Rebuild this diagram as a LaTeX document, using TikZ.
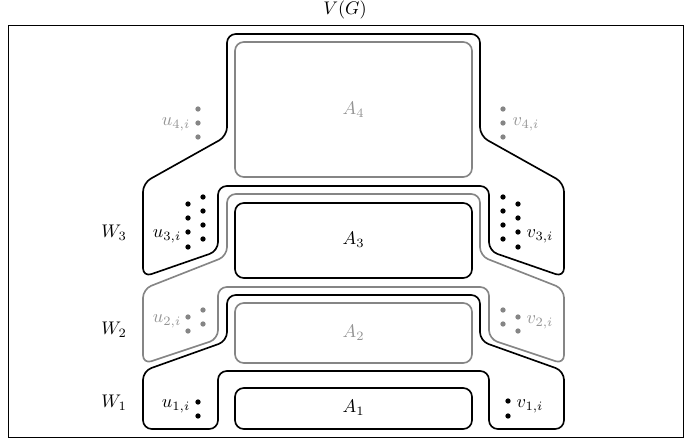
\documentclass[tikz,border=0pt]{standalone}
\definecolor{gline}{gray}{0.52}
\definecolor{gtext}{gray}{0.58}
\begin{document}
\begin{tikzpicture}[x=0.547pt,y=-0.547pt,
  blk/.style={draw=black, line width=0.9pt, rounded corners=4.8pt},
  gry/.style={draw=gline, line width=0.9pt, rounded corners=4.8pt},
  bdot/.style={circle, fill=black, inner sep=0pt, minimum size=2.9pt},
  gdot/.style={circle, fill=gline, inner sep=0pt, minimum size=2.9pt},
  glab/.style={text=gtext, inner sep=0pt},
  blab/.style={inner sep=0pt}]
\useasboundingbox (0,0) rectangle (691,442);
\draw[line width=0.5pt] (8,25) rectangle (683,437);
\node[blab] (VG) at (345,10) {$V(G)$};

% W3 region with A4 neck (black)
\draw[blk] (353.5,34) -- (480,34) -- (480,136) -- (564,183) -- (564,277) -- (489,251) -- (489,186)
  -- (218,186) -- (218,251) -- (143,277) -- (143,183) -- (227,136) -- (227,34) -- (353.5,34);
% W2 region with A3 neck (gray)
\draw[gry] (353.5,194) -- (480,194) -- (480,256) -- (564,289) -- (564,364) -- (489,339) -- (489,287)
  -- (218,287) -- (218,339) -- (143,364) -- (143,289) -- (227,256) -- (227,194) -- (353.5,194);
% W1 region with A2 neck (black)
\draw[blk] (353.5,295) -- (480,295) -- (480,341) -- (564,371) -- (564,429) -- (489,429) -- (489,371)
  -- (218,371) -- (218,429) -- (143,429) -- (143,371) -- (227,341) -- (227,295) -- (353.5,295);

% A rectangles
\node[gry, rectangle, minimum width=237*0.547pt, minimum height=135*0.547pt] (A4) at (353.5,109.5) {};
\node[blk, rectangle, minimum width=237*0.547pt, minimum height=75*0.547pt] (A3) at (353.5,240.5) {};
\node[gry, rectangle, minimum width=237*0.547pt, minimum height=60*0.547pt] (A2) at (353.5,333) {};
\node[blk, rectangle, minimum width=237*0.547pt, minimum height=41*0.547pt] (A1) at (353.5,408.5) {};
\node[glab] (tA4) at (353.5,110) {$A_4$};
\node[blab] (tA3) at (353.5,240) {$A_3$};
\node[glab] (tA2) at (353.5,333) {$A_2$};
\node[blab] (tA1) at (353.5,408) {$A_1$};

% W labels
\node[blab] (W3) at (114,233) {$W_3$};
\node[blab] (W2) at (114,330) {$W_2$};
\node[blab] (W1) at (114,403) {$W_1$};

% u4, v4
\node[gdot] (u4a) at (198,109) {};
\node[gdot] (u4b) at (198,123) {};
\node[gdot] (u4c) at (198,137) {};
\node[glab] (u4) at (176,124) {$u_{4,i}$};
\node[gdot] (v4a) at (503,109) {};
\node[gdot] (v4b) at (503,123) {};
\node[gdot] (v4c) at (503,137) {};
\node[glab] (v4) at (526,124) {$v_{4,i}$};

% u3, v3
\foreach \y [count=\k] in {204,218,232,247} {\node[bdot] (u3l\k) at (188,\y) {};}
\foreach \y [count=\k] in {197,211,225,239} {\node[bdot] (u3r\k) at (203,\y) {};}
\node[blab] (u3) at (167,236) {$u_{3,i}$};
\foreach \y [count=\k] in {197,211,225,239} {\node[bdot] (v3l\k) at (503,\y) {};}
\foreach \y [count=\k] in {204,218,232,247} {\node[bdot] (v3r\k) at (518,\y) {};}
\node[blab] (v3) at (540,236) {$v_{3,i}$};

% u2, v2
\foreach \y [count=\k] in {317,331} {\node[gdot] (u2l\k) at (188,\y) {};}
\foreach \y [count=\k] in {310,324} {\node[gdot] (u2r\k) at (203,\y) {};}
\node[glab] (u2) at (167,321) {$u_{2,i}$};
\foreach \y [count=\k] in {310,324} {\node[gdot] (v2l\k) at (503,\y) {};}
\foreach \y [count=\k] in {317,331} {\node[gdot] (v2r\k) at (518,\y) {};}
\node[glab] (v2) at (540,322) {$v_{2,i}$};

% u1, v1
\node[bdot] (u1a) at (198,402) {};
\node[bdot] (u1b) at (198,416) {};
\node[blab] (u1) at (176,406) {$u_{1,i}$};
\node[bdot] (v1a) at (508,401) {};
\node[bdot] (v1b) at (508,416) {};
\node[blab] (v1) at (530,406) {$v_{1,i}$};
\end{tikzpicture}
\end{document}
